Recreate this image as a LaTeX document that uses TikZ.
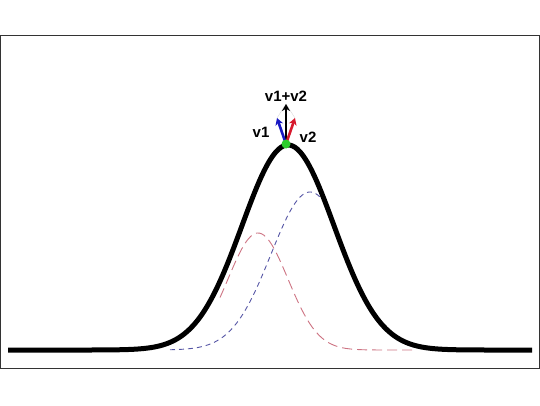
\documentclass[tikz,border=0pt]{standalone}
\usepackage{fontspec}
\setmainfont{Liberation Sans}
\usetikzlibrary{arrows.meta, positioning}
\definecolor{dashred}{RGB}{205,115,130}
\definecolor{dashblue}{RGB}{85,85,165}
\definecolor{vecblue}{RGB}{25,25,195}
\definecolor{vecred}{RGB}{215,25,45}
\definecolor{dotgreen}{RGB}{45,205,45}

\begin{document}
\begin{tikzpicture}[x=1pt, y=1pt,
    curve/.style={line width=5pt, line join=round},
    dashcurve/.style={line width=0.9pt, samples=90},
    vec/.style={line width=2.6pt, -{Stealth[length=7pt, width=8pt]}},
    guide/.style={line width=0.4pt, black!15},
    lbl/.style={font=\bfseries\fontsize{15}{15}\selectfont, inner sep=1pt}]
    \useasboundingbox (0,0) rectangle (540,405);
    \draw[line width=1pt, black!80] (0.5,37) rectangle (539,369.5);
    % the two parts
    \draw[dashcurve, dashred, dash pattern=on 10pt off 5pt, domain=220:415]
        plot (\x, {55+117*exp(0-0.5*((\x-258)/30)^2)});
    \draw[dashcurve, dashblue, dash pattern=on 5pt off 4pt, domain=170:330]
        plot (\x, {55+158*exp(0-0.5*((\x-310)/39)^2)});
    % the sum
    \draw[curve, domain=8:532, samples=220]
        plot (\x, {55+205*exp(0-0.5*((\x-288)/46)^2)});
    % vectors at the top
    \coordinate (top) at (286,261);
    \coordinate (sumtip) at (286,301);
    \coordinate (v1tip) at (277,287);
    \coordinate (v2tip) at (295,287);
    \draw[guide] (v1tip) -- (sumtip) -- (v2tip);
    \draw[vec, black, line width=2pt] (top) -- (sumtip);
    \draw[vec, vecblue] (top) -- (v1tip);
    \draw[vec, vecred] (top) -- (v2tip);
    \node[circle, fill=dotgreen, inner sep=0pt, minimum size=9pt] (dot) at (top) {};
    \node[lbl, above=1pt of sumtip] (sumlabel) {v1+v2};
    \node[lbl] (v1label) at (261,273) {v1};
    \node[lbl] (v2label) at (308,268) {v2};
\end{tikzpicture}
\end{document}
